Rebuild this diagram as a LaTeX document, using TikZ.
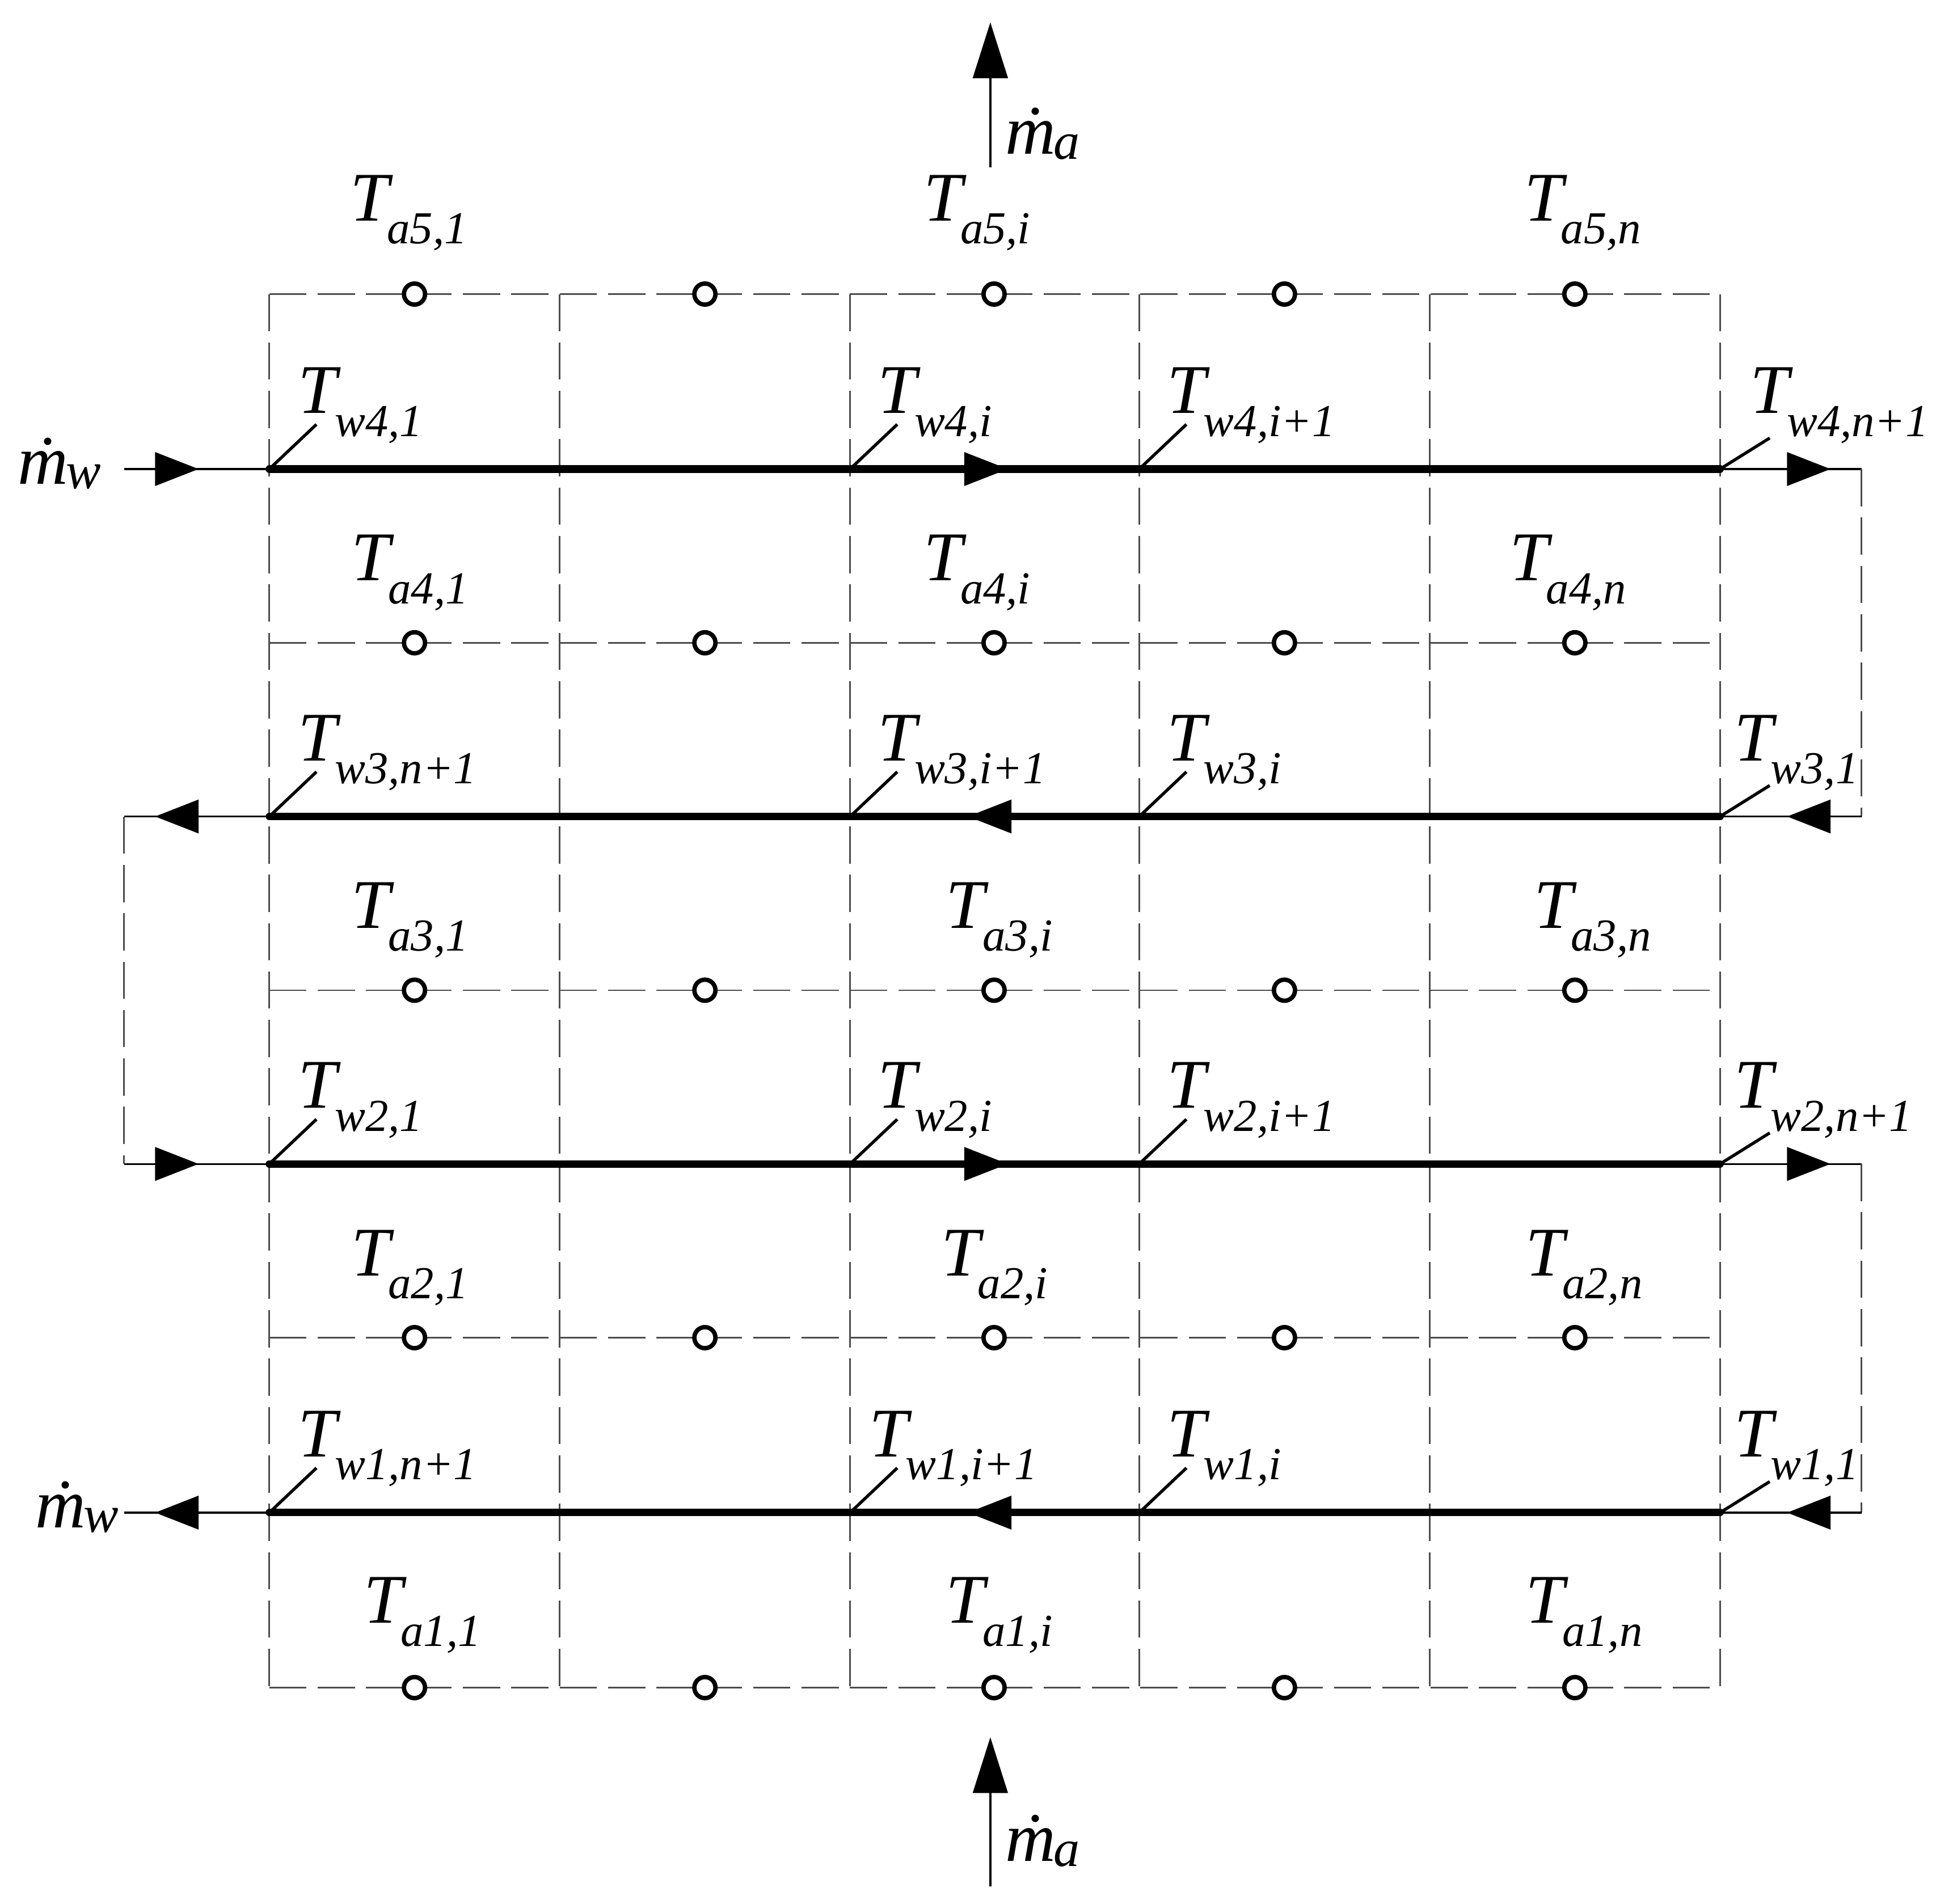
\documentclass[tikz,border=0pt]{standalone}
\usepackage{fontspec}
\setmainfont{Liberation Serif}
\usetikzlibrary{arrows.meta}
\newcommand\TL[1]{{\fontsize{32}{36}\selectfont T\hspace{-1pt}\raisebox{-0.37cm}{\fontsize{21}{24}\selectfont #1}}}
\newcommand\ML[1]{{\fontsize{32}{36}\selectfont \.{m}\hspace{-1pt}\raisebox{-0.08cm}{\fontsize{24}{26}\selectfont #1}}}
\tikzset{
  grid/.style={draw=black!70, line width=0.7pt, dash pattern=on 0.6cm off 0.18cm},
  thin/.style={line width=0.8pt},
  water/.style={line width=3.4pt, line cap=round},
  tri/.style={-{Triangle[length=0.7cm,width=0.54cm]}, line width=0.8pt},
  lead/.style={line width=1.4pt},
  dotc/.style={circle, draw, line width=2pt, fill=white, minimum size=0.34cm, inner sep=0pt},
  lab/.style={anchor=base west, inner sep=0pt, font=\itshape},
}
\begin{document}
\begin{tikzpicture}[x=0.02cm, y=-0.02cm]
\useasboundingbox (0,0) rectangle (1560,1534);
% grid
\foreach \x [count=\k] in {217,451,685,918,1152,1386} {
  \coordinate (top\k) at (\x,237);
  \coordinate (bot\k) at (\x,1360);
  \draw[grid] (top\k) -- (bot\k);
}
\foreach \y [count=\r] in {237,518,798,1078,1360} {
  \coordinate (al\r) at (217,\y);
  \coordinate (ar\r) at (1386,\y);
  \draw[grid] (al\r) -- (ar\r);
  \foreach \x [count=\k] in {334,568,801,1035,1269}
    \node[dotc] (c\r-\k) at (\x,\y) {};
}
% water nodes
\foreach \y [count=\r] in {1219,938,658,378} {
  \foreach \x [count=\k] in {217,685,918,1386}
    \coordinate (w\r-\k) at (\x,\y);
  \draw[water] (w\r-1) -- (w\r-4);
}
% mid arrows
\coordinate (m4a) at (770,378); \coordinate (m4b) at (812,378);
\coordinate (m2a) at (770,938); \coordinate (m2b) at (812,938);
\coordinate (m3a) at (822,658); \coordinate (m3b) at (780,658);
\coordinate (m1a) at (822,1219); \coordinate (m1b) at (780,1219);
\draw[tri] (m4a) -- (m4b);
\draw[tri] (m2a) -- (m2b);
\draw[tri] (m3a) -- (m3b);
\draw[tri] (m1a) -- (m1b);
% outer loops
\coordinate (L4) at (100,378); \coordinate (L3) at (100,658);
\coordinate (L2) at (100,938); \coordinate (L1) at (100,1219);
\coordinate (R4) at (1500,378); \coordinate (R3) at (1500,658);
\coordinate (R2) at (1500,938); \coordinate (R1) at (1500,1219);
\coordinate (la4) at (160,378); \coordinate (la3) at (125,658);
\coordinate (la2) at (160,938); \coordinate (la1) at (125,1219);
\coordinate (ra4) at (1475,378); \coordinate (ra3) at (1440,658);
\coordinate (ra2) at (1475,938); \coordinate (ra1) at (1440,1219);
\draw[thin] (L4) -- (w4-1); \draw[tri] (L4) -- (la4);
\draw[thin] (w4-4) -- (R4); \draw[tri] (w4-4) -- (ra4);
\draw[grid] (R4) -- (R3);
\draw[thin] (R3) -- (w3-4); \draw[tri] (R3) -- (ra3);
\draw[thin] (w3-1) -- (L3); \draw[tri] (w3-1) -- (la3);
\draw[grid] (L3) -- (L2);
\draw[thin] (L2) -- (w2-1); \draw[tri] (L2) -- (la2);
\draw[thin] (w2-4) -- (R2); \draw[tri] (w2-4) -- (ra2);
\draw[grid] (R2) -- (R1);
\draw[thin] (R1) -- (w1-4); \draw[tri] (R1) -- (ra1);
\draw[thin] (w1-1) -- (L1); \draw[tri] (w1-1) -- (la1);
% air arrows
\coordinate (at0) at (798,135); \coordinate (at1) at (798,18);
\coordinate (ab0) at (798,1520); \coordinate (ab1) at (798,1400);
\draw[-{Triangle[length=0.9cm,width=0.56cm]}, line width=1.1pt] (at0) -- (at1);
\draw[-{Triangle[length=0.9cm,width=0.56cm]}, line width=1.1pt] (ab0) -- (ab1);
\node[lab] (mat) at (810,124) {\ML{a}};
\node[lab] (mab) at (810,1500) {\ML{a}};
\node[lab] (mwt) at (14,390) {\ML{w}};
\node[lab] (mwb) at (28,1231) {\ML{w}};
% air labels
\node[lab] (a51) at (282,178) {\TL{a5,1}};
\node[lab] (a5i) at (744,178) {\TL{a5,i}};
\node[lab] (a5n) at (1228,178) {\TL{a5,n}};
\node[lab] (a41) at (283,468) {\TL{a4,1}};
\node[lab] (a4i) at (744,468) {\TL{a4,i}};
\node[lab] (a4n) at (1216,468) {\TL{a4,n}};
\node[lab] (a31) at (283,748) {\TL{a3,1}};
\node[lab] (a3i) at (762,748) {\TL{a3,i}};
\node[lab] (a3n) at (1236,748) {\TL{a3,n}};
\node[lab] (a21) at (283,1028) {\TL{a2,1}};
\node[lab] (a2i) at (758,1028) {\TL{a2,i}};
\node[lab] (a2n) at (1229,1028) {\TL{a2,n}};
\node[lab] (a11) at (293,1308) {\TL{a1,1}};
\node[lab] (a1i) at (762,1308) {\TL{a1,i}};
\node[lab] (a1n) at (1229,1308) {\TL{a1,n}};
% water labels + leaders
\newcommand\wlab[6]{%
  \node[lab] (t#1-#2) at (#3,#4) {\TL{#5}};
  \draw[lead] (w#1-#2) -- ++(#6);
}
\wlab{4}{1}{240}{333}{w4,1}{38,-36}
\wlab{4}{2}{707}{333}{w4,i}{38,-36}
\wlab{4}{3}{940}{333}{w4,i+1}{38,-36}
\wlab{4}{4}{1410}{333}{w4,n+1}{40,-25}
\wlab{3}{1}{240}{613}{w3,n+1}{38,-36}
\wlab{3}{2}{707}{613}{w3,i+1}{38,-36}
\wlab{3}{3}{940}{613}{w3,i}{38,-36}
\wlab{3}{4}{1397}{613}{w3,1}{40,-25}
\wlab{2}{1}{240}{893}{w2,1}{38,-36}
\wlab{2}{2}{707}{893}{w2,i}{38,-36}
\wlab{2}{3}{940}{893}{w2,i+1}{38,-36}
\wlab{2}{4}{1397}{893}{w2,n+1}{40,-25}
\wlab{1}{1}{240}{1174}{w1,n+1}{38,-36}
\wlab{1}{2}{700}{1174}{w1,i+1}{38,-36}
\wlab{1}{3}{940}{1174}{w1,i}{38,-36}
\wlab{1}{4}{1397}{1174}{w1,1}{40,-25}
\end{tikzpicture}
\end{document}
